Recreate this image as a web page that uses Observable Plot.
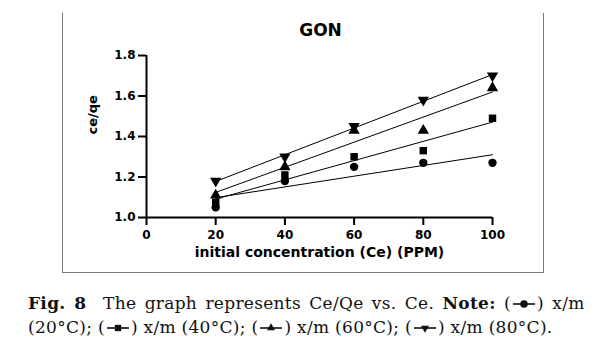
<!DOCTYPE html>
<html>
<head>
<meta charset="utf-8">
<script src="https://cdn.jsdelivr.net/npm/d3@7"></script>
<script src="https://cdn.jsdelivr.net/npm/@observablehq/plot@0.6"></script>
<style>
  html, body { margin: 0; padding: 0; background: #fff; }
  #wrap { position: relative; width: 597px; height: 350px; overflow: hidden; }
  #box { position: absolute; left: 62px; top: 13px; width: 480px; height: 259px;
         border-left: 1.5px solid #7a7a7a; border-right: 1.5px solid #7a7a7a; border-bottom: 1.5px solid #7a7a7a; }
  #chart { position: absolute; left: 0; top: 0; }
  #caption { position: absolute; left: 28px; top: 291px; font-family: "DejaVu Serif", serif; font-size: 17px;
             letter-spacing: 0.3px; line-height: 24px; white-space: nowrap; color: #111; }
  .l1 { word-spacing: 2.6px; }
  .sym { display: inline-block; width: 26px; height: 12px; vertical-align: -1px; }
</style>
</head>
<body>
<div id="wrap">
  <div id="box"></div>
  <div id="chart"></div>
  <div id="caption"><span class="l1"><b>Fig. 8</b>&nbsp; The graph represents Ce/Qe vs. Ce. <b>Note:</b> (<span class="sym" data-s="circle"></span>) x/m</span><br>(20°C); (<span class="sym" data-s="square"></span>) x/m (40°C); (<span class="sym" data-s="up"></span>) x/m (60°C); (<span class="sym" data-s="down"></span>) x/m (80°C).</div>
</div>
<script>
const concentrations = [20, 40, 60, 80, 100];
const series20 = [1.05, 1.18, 1.25, 1.27, 1.27];
const series40 = [1.075, 1.21, 1.30, 1.33, 1.49];
const series60 = [1.11, 1.25, 1.43, 1.43, 1.64];
const series80 = [1.18, 1.30, 1.45, 1.58, 1.70];
const seriesNames = ["20°C", "40°C", "60°C", "80°C"];
const xTicks = [0, 20, 40, 60, 80, 100];
const yTicks = [1.0, 1.2, 1.4, 1.6, 1.8];

const allSeries = [series20, series40, series60, series80];
const data = [];
allSeries.forEach((vals, i) => vals.forEach((v, j) => data.push({series: seriesNames[i], x: concentrations[j], y: v})));
const symbolOf = {"20°C": "circle", "40°C": "square", "60°C": "triangle", "80°C": "triangle"};
const rotateOf = {"20°C": 0, "40°C": 0, "60°C": 0, "80°C": 180};
const font = "DejaVu Sans, sans-serif";

const plot = Plot.plot({
  width: 597,
  height: 280,
  marginLeft: 146,
  marginRight: 105,
  marginTop: 55,
  marginBottom: 63,
  style: {background: "transparent", fontFamily: font, overflow: "visible", color: "#000"},
  x: {domain: [0, 100]},
  y: {domain: [1.0, 1.8]},
  symbol: {type: "identity"},
  marks: [
    Plot.axisX({ticks: xTicks, tickFormat: d => String(d), tickSize: 8, tickPadding: 5, strokeWidth: 2,
                fontSize: 12, fontWeight: "bold", label: null}),
    Plot.axisY({ticks: yTicks, tickFormat: d => d.toFixed(1), tickSize: 8, tickPadding: 3, strokeWidth: 2,
                fontSize: 12, fontWeight: "bold", label: null}),
    Plot.ruleX([0], {y1: 1.0, y2: 1.8, strokeWidth: 2}),
    Plot.ruleY([1.0], {x1: 0, x2: 100, strokeWidth: 2}),
    Plot.linearRegressionY(data, {x: "x", y: "y", z: "series", stroke: "black", strokeWidth: 1, ci: 0}),
    Plot.dot(data, {x: "x", y: "y", symbol: d => symbolOf[d.series], rotate: d => rotateOf[d.series],
                    fill: "black", stroke: "none", r: 4.2}),
    Plot.text(["GON"], {frameAnchor: "top", dy: -32, dx: 1, fontSize: 17, fontWeight: "bold", fontFamily: font,
                        textAnchor: "middle", letterSpacing: 3}),
    Plot.text(["initial concentration (Ce) (PPM)"], {frameAnchor: "bottom", dy: 39, fontSize: 14, fontWeight: "bold",
                        fontFamily: font, letterSpacing: 0.5}),
    Plot.text(["ce/qe"], {frameAnchor: "left", dx: -54, dy: -2, rotate: -90, fontSize: 13, fontWeight: "bold",
                        fontFamily: font})
  ]
});
document.getElementById("chart").appendChild(plot);

// caption legend keys (line + symbol), drawn with d3 symbols
const symMap = {circle: [d3.symbolCircle, 0, 45], square: [d3.symbolSquare, 0, 40], up: [d3.symbolTriangle, 0, 28], down: [d3.symbolTriangle, 180, 28]};
document.querySelectorAll(".sym").forEach(el => {
  const [type, rot, size] = symMap[el.dataset.s];
  const svg = d3.create("svg").attr("width", 26).attr("height", 12);
  svg.append("line").attr("x1", 2).attr("x2", 24).attr("y1", 6).attr("y2", 6).attr("stroke", "#111").attr("stroke-width", 1.6);
  svg.append("path").attr("d", d3.symbol(type, size)()).attr("transform", `translate(13,6) rotate(${rot})`).attr("fill", "#111");
  el.appendChild(svg.node());
});
</script>
</body>
</html>
